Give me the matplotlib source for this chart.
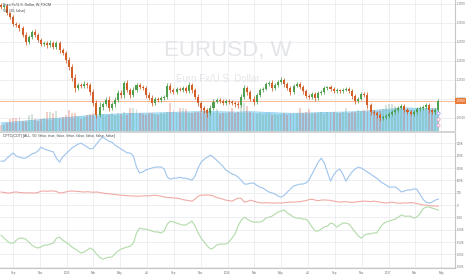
import matplotlib
matplotlib.use("Agg")
import matplotlib.pyplot as plt
import matplotlib.dates as mdates
import matplotlib.transforms as mtransforms
from matplotlib.lines import Line2D
from matplotlib.patches import Circle
import numpy as np
import pandas as pd

plt.rcParams['font.family'] = ['Liberation Sans', 'DejaVu Sans']

# ---------------- data ----------------
first_week = '2014-08-04'
first_open = 1.3473
close = [1.3421, 1.3447, 1.3263, 1.3158, 1.2973, 1.2947, 1.2868, 1.2684, 1.2500, 1.2631,
         1.2763, 1.2684, 1.2552, 1.2447, 1.2473, 1.2421, 1.2473, 1.2368, 1.2473, 1.2289,
         1.2210, 1.2026, 1.1842, 1.1552, 1.1289, 1.1368, 1.1342, 1.1394, 1.1368, 1.1184,
         1.0894, 1.0578, 1.0789, 1.0868, 1.0973, 1.0763, 1.0868, 1.0973, 1.1158, 1.1105,
         1.1421, 1.1237, 1.1105, 1.1237, 1.1368, 1.1315, 1.1289, 1.1105, 1.1026, 1.0894,
         1.1000, 1.0973, 1.1026, 1.1052, 1.1342, 1.1237, 1.1184, 1.1263, 1.1237, 1.1289,
         1.1210, 1.1368, 1.1237, 1.1052, 1.0894, 1.0763, 1.0710, 1.0631, 1.0763, 1.0921,
         1.0973, 1.0947, 1.0894, 1.0947, 1.0921, 1.0894, 1.0868, 1.0842, 1.1052, 1.1289,
         1.1184, 1.1000, 1.0921, 1.1105, 1.1237, 1.1263, 1.1394, 1.1421, 1.1289, 1.1368,
         1.1447, 1.1500, 1.1394, 1.1289, 1.1184, 1.1342, 1.1394, 1.1315, 1.1210, 1.1079,
         1.1052, 1.1131, 1.1026, 1.1158, 1.1184, 1.1289, 1.1315, 1.1263, 1.1210, 1.1237,
         1.1210, 1.1237, 1.1263, 1.1210, 1.1079, 1.0947, 1.1000, 1.1131, 1.1105, 1.0842,
         1.0657, 1.0631, 1.0578, 1.0500, 1.0526, 1.0552, 1.0605, 1.0657, 1.0710, 1.0763,
         1.0815, 1.0710, 1.0657, 1.0605, 1.0657, 1.0736, 1.0763, 1.0789, 1.0842, 1.0710,
         1.0657, 1.0710, 1.0947]
upper_wick = [0.004, 0.006, 0.005, 0.003, 0.004, 0.006, 0.005, 0.004, 0.007, 0.006,
              0.005, 0.008, 0.004, 0.005, 0.006, 0.004, 0.007, 0.005, 0.006, 0.004,
              0.005, 0.006, 0.008, 0.007, 0.010, 0.006, 0.005, 0.007, 0.006, 0.005,
              0.008, 0.009, 0.012, 0.006, 0.007, 0.010, 0.006, 0.008, 0.007, 0.009,
              0.006, 0.008, 0.005, 0.007, 0.006, 0.005, 0.004, 0.006, 0.007, 0.008,
              0.005, 0.006, 0.004, 0.005, 0.007, 0.009, 0.005, 0.006, 0.004, 0.005,
              0.006, 0.007, 0.005, 0.006, 0.008, 0.005, 0.006, 0.004, 0.007, 0.009,
              0.005, 0.004, 0.006, 0.005, 0.004, 0.005, 0.006, 0.007, 0.009, 0.008,
              0.006, 0.005, 0.007, 0.006, 0.005, 0.004, 0.006, 0.005, 0.007, 0.006,
              0.005, 0.008, 0.006, 0.005, 0.004, 0.006, 0.005, 0.006, 0.004, 0.005,
              0.006, 0.004, 0.005, 0.006, 0.004, 0.005, 0.003, 0.004, 0.005, 0.004,
              0.003, 0.004, 0.005, 0.004, 0.006, 0.005, 0.004, 0.006, 0.005, 0.007,
              0.005, 0.004, 0.006, 0.005, 0.004, 0.005, 0.006, 0.004, 0.005, 0.006,
              0.005, 0.004, 0.006, 0.005, 0.004, 0.006, 0.005, 0.004, 0.006, 0.005,
              0.004, 0.005, 0.006]
lower_wick = [0.005, 0.004, 0.006, 0.005, 0.004, 0.005, 0.007, 0.006, 0.008, 0.005,
              0.006, 0.005, 0.004, 0.006, 0.005, 0.007, 0.004, 0.006, 0.005, 0.007,
              0.006, 0.008, 0.007, 0.009, 0.011, 0.006, 0.005, 0.006, 0.007, 0.008,
              0.009, 0.007, 0.006, 0.008, 0.006, 0.009, 0.005, 0.007, 0.006, 0.008,
              0.007, 0.006, 0.008, 0.005, 0.006, 0.005, 0.006, 0.007, 0.006, 0.009,
              0.006, 0.005, 0.006, 0.004, 0.005, 0.007, 0.006, 0.005, 0.004, 0.006,
              0.005, 0.006, 0.007, 0.006, 0.008, 0.007, 0.009, 0.010, 0.006, 0.005,
              0.004, 0.005, 0.006, 0.004, 0.005, 0.006, 0.007, 0.008, 0.006, 0.005,
              0.007, 0.006, 0.008, 0.005, 0.006, 0.005, 0.004, 0.006, 0.007, 0.005,
              0.006, 0.005, 0.007, 0.006, 0.008, 0.005, 0.004, 0.006, 0.007, 0.006,
              0.005, 0.006, 0.007, 0.004, 0.005, 0.004, 0.005, 0.006, 0.004, 0.005,
              0.004, 0.005, 0.004, 0.006, 0.007, 0.008, 0.005, 0.004, 0.006, 0.008,
              0.009, 0.006, 0.007, 0.008, 0.005, 0.006, 0.004, 0.005, 0.006, 0.005,
              0.004, 0.006, 0.005, 0.004, 0.006, 0.005, 0.004, 0.005, 0.006, 0.007,
              0.005, 0.004, 0.008]
volume = [5.0, 4.8, 6.0, 9.5, 10.2, 9.8, 10.5, 8.0, 7.5, 12.5,
          13.0, 9.0, 8.0, 9.5, 10.0, 14.5, 15.0, 14.0, 15.5, 10.0,
          11.0, 12.0, 16.0, 13.5, 14.0, 10.5, 9.5, 11.0, 12.0, 13.0,
          14.0, 15.0, 17.0, 13.0, 11.5, 12.0, 13.5, 12.0, 14.0, 13.0,
          14.5, 12.0, 17.5, 18.0, 17.0, 14.0, 13.0, 12.5, 13.5, 14.0,
          13.0, 12.0, 13.5, 14.0, 15.0, 21.5, 16.0, 14.0, 17.5, 18.0,
          17.0, 14.0, 13.5, 14.5, 15.0, 18.0, 16.5, 15.0, 14.0, 15.0,
          17.0, 13.0, 13.5, 14.0, 15.0, 17.5, 14.0, 15.0, 20.0, 21.5,
          19.0, 15.0, 14.0, 13.0, 13.5, 12.0, 13.0, 14.0, 12.5, 13.0,
          12.0, 13.0, 14.0, 12.5, 13.0, 14.0, 13.5, 17.5, 14.0, 15.0,
          17.0, 14.0, 13.5, 14.0, 15.0, 13.0, 14.5, 14.0, 15.0, 13.5,
          14.0, 15.0, 18.0, 14.0, 14.5, 15.0, 16.0, 15.5, 16.0, 21.5,
          18.0, 16.0, 15.0, 16.5, 17.0, 20.0, 21.0, 20.5, 19.0, 18.5,
          17.0, 16.0, 17.5, 16.5, 16.0, 17.0, 16.0, 17.5, 18.0, 17.0,
          16.5, 18.0, 15.0]
vol_ma = [6.2, 6.3, 6.5, 6.7, 6.9, 7.1, 7.3, 7.5, 7.7, 7.9,
          8.1, 8.3, 8.5, 8.7, 8.9, 9.1, 9.3, 9.5, 9.7, 9.9,
          10.1, 10.3, 10.5, 10.7, 10.9, 11.1, 11.3, 11.5, 11.7, 11.9,
          12.1, 12.3, 12.5, 12.6, 12.7, 12.8, 12.9, 13.0, 13.1, 13.2,
          13.3, 13.4, 13.5, 13.5, 13.6, 13.6, 13.7, 13.7, 13.8, 13.8,
          13.9, 13.9, 14.0, 14.0, 14.1, 14.2, 14.3, 14.4, 14.5, 14.6,
          14.6, 14.7, 14.7, 14.8, 14.8, 14.8, 14.9, 14.9, 14.9, 14.9,
          14.8, 14.8, 14.7, 14.7, 14.6, 14.6, 14.5, 14.5, 14.6, 14.7,
          14.8, 14.8, 14.7, 14.6, 14.5, 14.4, 14.3, 14.2, 14.1, 14.0,
          13.9, 13.8, 13.7, 13.7, 13.6, 13.6, 13.6, 13.7, 13.7, 13.8,
          13.8, 13.9, 14.0, 14.1, 14.2, 14.2, 14.3, 14.3, 14.4, 14.4,
          14.5, 14.5, 14.6, 14.6, 14.7, 14.8, 14.9, 15.0, 15.2, 15.4,
          15.6, 15.8, 16.0, 16.2, 16.4, 16.6, 16.8, 17.0, 17.2, 17.4,
          17.6, 17.7, 17.7, 17.6, 17.5, 17.4, 17.3, 17.2, 17.2, 17.2,
          17.1, 17.0, 16.9]
cot_blue = [178, 178, 190, 202, 211, 198, 194, 190, 190, 198,
            207, 211, 219, 235, 227, 223, 219, 215, 190, 174,
            194, 207, 219, 231, 239, 247, 251, 243, 235, 227,
            231, 247, 263, 275, 267, 259, 255, 243, 235, 227,
            219, 211, 211, 198, 154, 130, 134, 142, 146, 150,
            154, 154, 154, 146, 113, 105, 109, 109, 113, 109,
            109, 105, 101, 117, 150, 174, 186, 194, 202, 194,
            182, 170, 158, 142, 134, 126, 122, 113, 101, 85,
            85, 89, 89, 81, 73, 69, 61, 53, 49, 45,
            36, 32, 40, 53, 65, 77, 81, 85, 85, 89,
            101, 126, 150, 174, 190, 170, 134, 97, 122, 138,
            146, 126, 97, 117, 134, 146, 154, 150, 142, 134,
            126, 117, 109, 97, 89, 81, 73, 73, 73, 65,
            53, 57, 61, 61, 65, 65, 45, 24, 12, 8,
            12, 20, 24]
cot_red = [53, 51, 49, 49, 52, 53, 51, 50, 49, 50,
           49, 49, 51, 56, 57, 56, 57, 57, 55, 49,
           50, 53, 56, 57, 56, 55, 54, 53, 54, 53,
           52, 53, 51, 49, 47, 46, 44, 43, 41, 40,
           39, 38, 37, 37, 36, 36, 37, 38, 37, 39,
           40, 38, 36, 33, 31, 30, 29, 28, 26, 22,
           20, 18, 16, 24, 36, 40, 40, 41, 40, 37,
           30, 28, 24, 20, 18, 16, 22, 28, 27, 12,
           14, 20, 16, 12, 10, 8, 10, 9, 8, 8,
           9, 8, 10, 11, 12, 12, 13, 14, 16, 18,
           22, 24, 20, 18, 20, 21, 20, 19, 16, 14,
           12, 13, 14, 12, 11, 12, 14, 15, 16, 15,
           14, 16, 14, 12, 10, 8, 10, 12, 9, 8,
           7, 9, 8, 10, 9, 6, 4, 0, 0, -2,
           -3, -4, -4]
cot_green = [-122, -134, -146, -154, -154, -142, -134, -134, -138, -150,
             -162, -170, -174, -170, -162, -162, -158, -154, -134, -130,
             -142, -150, -158, -170, -178, -186, -194, -190, -182, -174,
             -182, -198, -211, -219, -215, -211, -211, -198, -186, -178,
             -174, -170, -166, -154, -113, -93, -97, -97, -101, -105,
             -109, -109, -113, -105, -77, -65, -69, -73, -77, -81,
             -81, -73, -65, -85, -113, -134, -150, -166, -178, -174,
             -162, -158, -158, -158, -150, -134, -117, -85, -61, -49,
             -57, -65, -69, -69, -69, -65, -53, -49, -45, -36,
             -28, -24, -20, -32, -40, -49, -53, -53, -57, -57,
             -69, -89, -105, -105, -97, -89, -85, -73, -77, -89,
             -81, -73, -73, -77, -93, -109, -125, -134, -122, -117,
             -117, -113, -113, -93, -77, -69, -65, -61, -57, -49,
             -40, -45, -45, -45, -53, -49, -36, -16, -8, -8,
             -12, -16, -20]
last_price = 1.0958
price_ticks = [1.05, 1.10, 1.15, 1.20, 1.25, 1.30, 1.35]
price_labels = ['1.0500', '1.1000', '1.1500', '1.2000', '1.2500', '1.3000', '1.3500']
cot_ticks = [-250, -200, -150, -100, -50, 0, 50, 100, 150, 200, 250]
cot_labels = ['-250K', '-200K', '-150K', '-100K', '-50K', '0', '50K', '100K', '150K', '200K', '250K']
date_ticks = ['2014-09-01', '2014-11-01', '2015-01-01', '2015-03-01', '2015-05-01', '2015-07-01',
              '2015-09-01', '2015-11-01', '2016-01-01', '2016-03-01', '2016-05-01', '2016-07-01',
              '2016-09-01', '2016-11-01', '2017-01-01', '2017-03-01', '2017-05-01']
date_labels = ['Sep', 'Nov', '2015', 'Mar', 'May', 'Jul', 'Sep', 'Nov', '2016',
               'Mar', 'May', 'Jul', 'Sep', 'Nov', '2017', 'Mar', 'May']
event_prices = [1.0640, 1.0480, 1.0320]
event_colors = ['#a49be6', '#f29bbd', '#f29bbd']

# ---------------- figure ----------------
W, H = 466, 275
fig = plt.figure(figsize=(W / 100, H / 100), dpi=100)
fig.patch.set_facecolor('white')


def px_axes(x0, y0, x1, y1):
    return fig.add_axes([x0 / W, 1 - y1 / H, (x1 - x0) / W, (y1 - y0) / H])


ax1 = px_axes(0, 0, 455, 131)
ax2 = px_axes(0, 133, 455, 268)

dates = pd.date_range(first_week, periods=len(close), freq='7D')
x = mdates.date2num(dates)
xmin, xmax = x[0] - 2.3, x[0] + 1032
tick_x = mdates.date2num(pd.to_datetime(date_ticks))

c = np.array(close)
o = np.r_[first_open, c[:-1]]
up = c >= o
up_col, dn_col = '#4f9f4f', '#d35e27'
cols = np.where(up, up_col, dn_col)
hi = np.maximum(o, c) + np.array(upper_wick)
lo = np.minimum(o, c) - np.array(lower_wick)

# volume (drawn in axes-fraction space of the price pane)
vol_top = 100.8
trans = mtransforms.blended_transform_factory(ax1.transData, ax1.transAxes)
vma = np.array(vol_ma) / vol_top
ax1.fill_between(x, 0, vma, transform=trans, color='#9ad7f2', lw=0, zorder=2)
ax1.plot(x, vma, transform=trans, color='#86cbee', lw=0.6, zorder=2.1)
vcols = np.where(up, '#6ba583', '#d75442')
ax1.bar(x, np.array(volume) / vol_top, width=4.3, bottom=0, color=vcols, alpha=0.28,
        lw=0, transform=trans, zorder=2.5)

# last price line
ax1.axhline(last_price, color='#f6b896', lw=0.7, zorder=3)

# candles
ax1.vlines(x, lo, hi, colors=cols, lw=0.55, zorder=4)
body = np.maximum(np.abs(c - o), 0.0012)
ax1.bar(x, body, bottom=np.minimum(o, c), width=4.6, color=cols, lw=0, zorder=5)

# event markers at the last bar
for p, ec in zip(event_prices, event_colors):
    ax1.scatter([x[-1]], [p], s=5, facecolor='white', edgecolor=ec, linewidths=0.6, zorder=6)

ax1.set_xlim(xmin, xmax)
ax1.set_ylim(1.0157, 1.3605)

# COT pane
ax2.plot(x, cot_blue, color='#9ec4ec', lw=0.8, zorder=3)
ax2.plot(x, cot_red, color='#f1aaa5', lw=0.8, zorder=3)
ax2.plot(x, cot_green, color='#b2dba9', lw=0.8, zorder=3)
ax2.set_xlim(xmin, xmax)
ax2.set_ylim(-255, 292)

grid_col = '#ebedf0'
lab_col = '#707070'
for ax in (ax1, ax2):
    ax.set_facecolor('none')
    ax.set_axisbelow(True)
    ax.set_xticks(tick_x)
    ax.grid(True, color=grid_col, lw=0.6)
    ax.yaxis.tick_right()
    ax.tick_params(axis='y', length=1.0, width=0.4, color='#b8b8b8', pad=0.4,
                   labelsize=2.0, labelcolor=lab_col)
    for s in ('top', 'left', 'bottom'):
        ax.spines[s].set_visible(False)
    ax.spines['right'].set_color('#c6c6c6')
    ax.spines['right'].set_linewidth(0.8)

ax1.set_yticks(price_ticks)
ax1.set_yticklabels(price_labels)
ax1.tick_params(axis='x', length=0, labelbottom=False)
ax2.set_yticks(cot_ticks)
ax2.set_yticklabels(cot_labels)
ax2.set_xticklabels(date_labels)
ax2.tick_params(axis='x', length=0, pad=2.0, labelsize=2.2, labelcolor=lab_col)
ax2.spines['bottom'].set_visible(True)
ax2.spines['bottom'].set_color('#c6c6c6')
ax2.spines['bottom'].set_linewidth(0.8)

# pane separator
fig.add_artist(Line2D([0, 455 / W], [1 - 131.8 / H] * 2, transform=fig.transFigure,
                      color='#cdcdcd', lw=1.2))

# watermark
ax1.text(228 / W, 1 - 50 / H, 'EURUSD, W', transform=fig.transFigure, fontsize=16,
         color='#e3e5e8', ha='center', va='center', zorder=1)
ax1.text(218 / W, 1 - 79 / H, 'Euro Fx/U.S. Dollar', transform=fig.transFigure, fontsize=7,
         color='#e3e5e8', ha='center', va='center', zorder=1)

# legends
fig.text(3 / W, 1 - 4.5 / H, 'Euro Fx/U.S. Dollar, W, FXCM', fontsize=2.6, color='#444444',
         va='center')
fig.text(3 / W, 1 - 11 / H, 'Vol (20, false)', fontsize=2.6, color='#444444', va='center')
fig.text(3 / W, 1 - 136.5 / H,
         'CFTC(COT) [ALL, 50, false, true, false, false, false, false, false, false]',
         fontsize=2.6, color='#444444', va='center')

# last price label
fig.text(456.5 / W, 1 - 100.8 / H, '1.0958', fontsize=2.0, color='white', va='center',
         bbox=dict(boxstyle='square,pad=0.4', fc='#e97b3b', ec='none'))

fig.savefig('out.png', dpi=100, facecolor='white')
